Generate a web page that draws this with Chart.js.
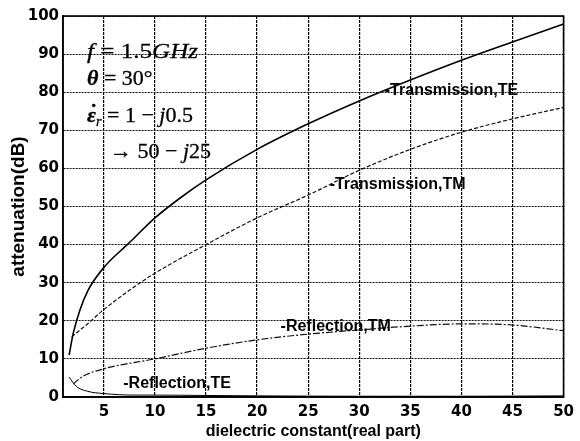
<!DOCTYPE html>
<html>
<head>
<meta charset="utf-8">
<script src="https://cdn.jsdelivr.net/npm/chart.js@4.4.1/dist/chart.umd.min.js"></script>
<style>
  body { margin: 0; background: #fff; }
  #wrap { position: relative; width: 580px; height: 441px; }
  .eq { position: absolute; font-family: "Liberation Serif", serif; font-size: 22px; line-height: 22px; color: #000; white-space: nowrap; -webkit-text-stroke: 0.3px #000; transform-origin: left top; }
  .eq sub { font-size: 14px; line-height: 0; vertical-align: -4px; }
  .dot { position: relative; display: inline-block; }
  .dot span { position: absolute; left: 3px; top: -3px; font-style: normal; }
</style>
</head>
<body>
<div id="wrap">
  <canvas id="chart" width="580" height="441"></canvas>
  <div class="eq" style="left:87px; top:40px; transform: scaleX(1.14)"><i>f</i> = 1.5<i>GHz</i></div>
  <div class="eq" style="left:87px; top:67px"><b><i>θ</i></b> = 30°</div>
  <div class="eq" style="left:87px; top:104px"><b class="dot"><i>ε</i><span>˙</span></b><sub><i>r</i></sub> = 1 − <i>j</i>0.5</div>
  <div class="eq" style="left:110px; top:140px">→ 50 − <i>j</i>25</div>
</div>
<script>
// valores
const xTicks = [5, 10, 15, 20, 25, 30, 35, 40, 45, 50];

const transTEx = [1.6, 2, 2.65, 3.45, 5, 7.5, 10, 12.5, 15, 20, 25, 30, 35, 40, 45, 50];
const transTEy = [11, 16.7, 22.8, 28, 34, 40.5, 47, 52.3, 57, 65, 71.7, 77.7, 83.2, 88.4, 93.2, 97.9];

const transTMx = [1.85, 3.45, 4.75, 7.5, 10, 15, 20, 25, 30, 35, 40, 45, 50];
const transTMy = [15.8, 19.3, 22.4, 28, 32.5, 40, 47, 53, 59.5, 65, 69.5, 73, 76];

const reflTMx = [2, 2.8, 5, 10, 15, 20, 25, 30, 35, 40, 45, 50];
const reflTMy = [3.4, 5.2, 7.4, 10, 12.8, 15, 16.5, 17.6, 18.6, 19.2, 18.9, 17.4];

const reflTEx = [1.6, 2.3, 3.4, 5, 8, 10, 15, 20, 30, 40, 50];
const reflTEy = [5.2, 2.8, 1.5, 0.9, 0.5, 0.5, 0.4, 0.3, 0.2, 0.2, 0.3];

// rótulos das curvas: [texto, x, y]
const curveLabels = [
  ['-Transmission,TE', 32.5, 79.3],
  ['-Transmission,TM', 27.1, 54.6],
  ['-Reflection,TM', 22.3, 17.3],
  ['-Reflection,TE', 6.9, 2.4]
];

function pts(xs, ys) {
  return xs.map((x, i) => ({ x: x, y: ys[i] }));
}

const frameAndLabels = {
  id: 'frameAndLabels',
  afterDatasetsDraw(chart) {
    const { ctx, chartArea: a, scales } = chart;
    ctx.save();
    ctx.fillStyle = '#000';
    ctx.font = 'bold 16px "Liberation Sans", Arial, sans-serif';
    ctx.textBaseline = 'alphabetic';
    curveLabels.forEach(l => {
      ctx.fillText(l[0], scales.x.getPixelForValue(l[1]), scales.y.getPixelForValue(l[2]));
    });
    ctx.strokeStyle = '#000';
    ctx.lineWidth = 1.6;
    ctx.strokeRect(a.left, a.top, a.right - a.left, a.bottom - a.top);
    ctx.restore();
  }
};

const tickFont = { family: 'DejaVu Sans', size: 15, weight: 'bold' };

new Chart(document.getElementById('chart'), {
  type: 'line',
  data: {
    datasets: [
      { label: 'Transmission,TE', data: pts(transTEx, transTEy), borderColor: '#000', borderWidth: 1.6 },
      { label: 'Transmission,TM', data: pts(transTMx, transTMy), borderColor: '#111', borderWidth: 1.2, borderDash: [4, 2] },
      { label: 'Reflection,TM', data: pts(reflTMx, reflTMy), borderColor: '#111', borderWidth: 1.2, borderDash: [7, 2, 2, 2] },
      { label: 'Reflection,TE', data: pts(reflTEx, reflTEy), borderColor: '#000', borderWidth: 1 }
    ]
  },
  options: {
    responsive: false,
    animation: false,
    layout: { padding: { left: 0, right: 11, top: 16, bottom: 0 } },
    elements: {
      point: { radius: 0 },
      line: { cubicInterpolationMode: 'monotone', fill: false }
    },
    scales: {
      x: {
        type: 'linear',
        min: 1,
        max: 50,
        afterBuildTicks: s => { s.ticks = xTicks.map(v => ({ value: v })); },
        afterFit: s => { s.height = 44; },
        grid: { color: '#000', lineWidth: 1.2, drawTicks: false },
        border: { display: true, color: '#000', width: 1.6, dash: [3, 1] },
        ticks: { padding: 6, color: '#000', font: tickFont },
        title: {
          display: true,
          text: 'dielectric constant(real part)',
          color: '#000',
          font: { family: 'Liberation Sans', size: 16, weight: 'bold' },
          padding: { top: 0, bottom: 0 }
        }
      },
      y: {
        min: 0,
        max: 100,
        afterFit: s => { s.width = 63; },
        grid: { color: '#111', lineWidth: 1, drawTicks: false },
        border: { display: true, color: '#000', width: 1.6, dash: [2, 1] },
        ticks: { stepSize: 10, padding: 4, color: '#000', font: tickFont },
        title: {
          display: true,
          text: 'attenuation(dB)',
          color: '#000',
          font: { family: 'Liberation Sans', size: 19, weight: 'bold' },
          padding: { top: 7, bottom: 0 }
        }
      }
    },
    plugins: {
      legend: { display: false },
      tooltip: { enabled: false }
    }
  },
  plugins: [frameAndLabels]
});
</script>
</body>
</html>
